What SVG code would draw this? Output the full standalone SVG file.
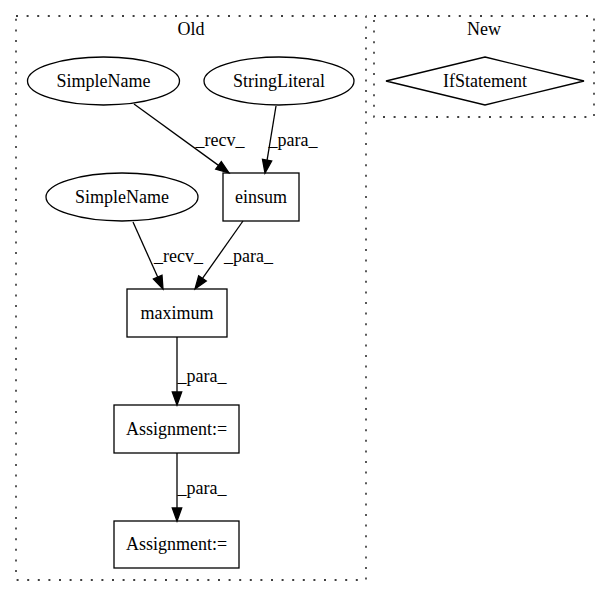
<svg xmlns="http://www.w3.org/2000/svg" width="611" height="596" viewBox="0 0 611 596">
<style>
text{font-family:"Liberation Serif","Times New Roman",serif;font-size:18px;fill:#000;text-anchor:middle}
.cl{fill:none;stroke:#000;stroke-dasharray:2,8.6;stroke-width:1.3}
.n{fill:none;stroke:#000;stroke-width:1.3}
.e{fill:none;stroke:#000;stroke-width:1.3}
.ah{fill:#000;stroke:#000;stroke-width:1.3}
</style>
<rect width="611" height="596" fill="#fff"/>
<g id="cluster_old">
<rect class="cl" x="16" y="16" width="350" height="564"/>
<text x="191" y="35">Old</text>
</g>
<g id="cluster_new">
<rect class="cl" x="374" y="16" width="220" height="101"/>
<text x="484" y="35">New</text>
</g>
<g id="connectors">
<path class="e" d="M134,104 L218.5,165.4"/>
<polygon class="ah" points="215.7,169.2 229,173 221.3,161.6"/>
<text x="220" y="146">_recv_</text>
<path class="e" d="M276,106 L267.1,160.2"/>
<polygon class="ah" points="262.5,159.4 265,173 271.7,161"/>
<text x="293" y="146">_para_</text>
<path class="e" d="M133,222 L157.7,277.1"/>
<polygon class="ah" points="153.4,279 163,289 162,275.2"/>
<text x="178.5" y="262">_recv_</text>
<path class="e" d="M243,221 L202.5,278.4"/>
<polygon class="ah" points="198.7,275.7 195,289 206.3,281.1"/>
<text x="248.5" y="262">_para_</text>
<path class="e" d="M177,337 L177,392"/>
<polygon class="ah" points="172.3,392 177,405 181.7,392"/>
<text x="202" y="382">_para_</text>
<path class="e" d="M177,453 L177,508"/>
<polygon class="ah" points="172.3,508 177,521 181.7,508"/>
<text x="202" y="494">_para_</text>
</g>
<g id="simplename1">
<ellipse class="n" cx="103.5" cy="81" rx="76" ry="24"/>
<text x="103.5" y="87">SimpleName</text>
</g>
<g id="stringliteral">
<ellipse class="n" cx="279" cy="81" rx="75" ry="24"/>
<text x="279" y="87">StringLiteral</text>
</g>
<g id="einsum">
<rect class="n" x="223" y="173" width="76" height="48"/>
<text x="261" y="203">einsum</text>
</g>
<g id="simplename2">
<ellipse class="n" cx="122" cy="197" rx="76" ry="24"/>
<text x="122" y="203">SimpleName</text>
</g>
<g id="maximum">
<rect class="n" x="127" y="289" width="100" height="48"/>
<text x="177" y="319">maximum</text>
</g>
<g id="assignment1">
<rect class="n" x="114" y="405" width="125" height="48"/>
<text x="176.5" y="435">Assignment:=</text>
</g>
<g id="assignment2">
<rect class="n" x="114" y="521" width="125" height="47"/>
<text x="176.5" y="550">Assignment:=</text>
</g>
<g id="ifstatement">
<polygon class="n" points="485,57 584,81 485,105 386,81"/>
<text x="485" y="87">IfStatement</text>
</g>
</svg>
